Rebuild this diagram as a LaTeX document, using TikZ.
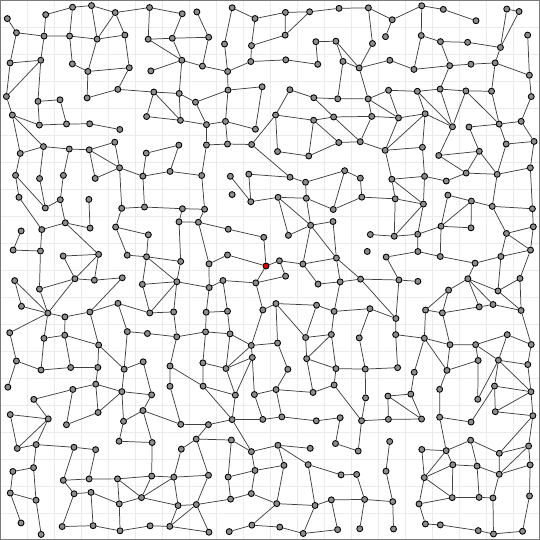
\documentclass[tikz,border=0pt]{standalone}
\usepackage{tikz}
\usetikzlibrary{positioning}
\usepackage{xcolor}
\definecolor{NodeGray}{HTML}{8E8E8E}
\definecolor{SeedRed}{HTML}{E00000}
\definecolor{RuleGray}{HTML}{EBEBEB}
\definecolor{FrameGray}{HTML}{7A7A7A}
\tikzset{
  vertex/.style={circle,draw=black,fill=NodeGray,line width=0.5pt,
    inner sep=0pt,minimum size=3.4pt},
  link/.style={draw=black!75,line width=0.42pt},
  gridline/.style={draw=RuleGray,line width=0.5pt},
}

\begin{document}
\begin{tikzpicture}[x=0.02cm,y=-0.02cm]
    \useasboundingbox (0,0) rectangle (540,540);
    \pgfmathsetseed{2024}
    \fill[white] (0,0) rectangle (540,540);
    \foreach \k in {1,...,19}{
      \draw[gridline] (\k*27,0) -- (\k*27,540);
      \draw[gridline] (0,\k*27) -- (540,\k*27);
    }
    \draw[FrameGray,line width=0.03cm] (0.75,0.75) rectangle (539.25,539.25);
    % one jittered vertex per cell, the seed in the middle
    \foreach \i in {0,...,19}{
      \foreach \j in {0,...,19}{
        \pgfmathsetmacro{\x}{13.5+\i*27+(rnd-0.5)*16}
        \pgfmathsetmacro{\y}{13.5+\j*27+(rnd-0.5)*16}
        \pgfmathtruncatemacro{\isseed}{and(\i==9,\j==9)}
        \ifnum\isseed=1
          \node[vertex,fill=SeedRed] (n-\i-\j) at (266,266) {};
        \else
          \node[vertex] (n-\i-\j) at (\x,\y) {};
        \fi
      }
    }
    % links to right and lower neighbours, a few diagonals
    \foreach \i in {0,...,19}{
      \foreach \j in {0,...,19}{
        \pgfmathtruncatemacro{\ii}{\i+1}
        \pgfmathtruncatemacro{\jj}{\j+1}
        \pgfmathtruncatemacro{\goright}{rnd<0.72}
        \pgfmathtruncatemacro{\godown}{rnd<0.72}
        \pgfmathsetmacro{\pick}{rnd}
        \pgfmathtruncatemacro{\godiag}{\pick<0.1}
        \pgfmathtruncatemacro{\goanti}{and(\pick>=0.1,\pick<0.19)}
        \ifnum\i<19 \ifnum\goright=1
          \draw[link] (n-\i-\j) -- (n-\ii-\j);
        \fi\fi
        \ifnum\j<19 \ifnum\godown=1
          \draw[link] (n-\i-\j) -- (n-\i-\jj);
        \fi\fi
        \ifnum\i<19 \ifnum\j<19
          \ifnum\godiag=1
            \draw[link] (n-\i-\j) -- (n-\ii-\jj);
          \fi
          \ifnum\goanti=1
            \draw[link] (n-\ii-\j) -- (n-\i-\jj);
          \fi
        \fi\fi
      }
    }
\end{tikzpicture}
\end{document}
